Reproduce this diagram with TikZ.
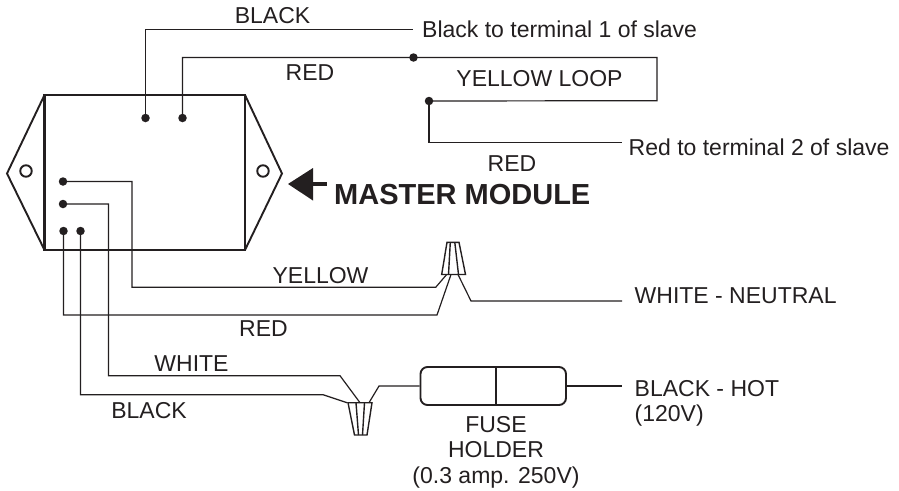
\documentclass[tikz,border=0pt]{standalone}
\usepackage{fontspec}
\setmainfont{Liberation Sans}
\definecolor{ink}{HTML}{231F20}
\tikzset{
  wire/.style={draw=ink,line width=1.2pt,line join=miter},
  heavy/.style={draw=ink,line width=2.5pt,line join=miter},
  side/.style={draw=ink,line width=1.9pt,line join=miter},
  part/.style={draw=ink,line width=1.4pt,line join=miter},
  pin/.style={circle,fill=ink,inner sep=0pt,minimum size=8.5pt},
  hole/.style={circle,draw=ink,line width=1.9pt,inner sep=0pt,minimum size=11.5pt},
  lbl/.style={text=ink,inner sep=0pt,anchor=base,font=\fontsize{23}{27}\selectfont},
  lblw/.style={lbl,anchor=base west},
  bigl/.style={text=ink,inner sep=0pt,anchor=base west,font=\fontsize{29}{34}\selectfont\bfseries},
  fusebox/.style={draw=ink,line width=1.9pt,rounded corners=7pt,minimum width=145.5pt,minimum height=38pt,inner sep=0pt},
}
\begin{document}
\begin{tikzpicture}[x=1pt,y=-1pt]
\useasboundingbox (0,0) rectangle (899,490);
% module
\coordinate (tl) at (44.5,95); \coordinate (tr) at (245,95);
\coordinate (bl) at (44.5,250); \coordinate (br) at (245,250);
\coordinate (la) at (7,173.5); \coordinate (ra) at (282,173.5);
\draw[heavy] (tl) -- (tr) -- (br) -- (bl) -- cycle;
\draw[side] (tl) -- (la) -- (bl) (tr) -- (ra) -- (br);
\node[hole] (hl) at (26,171) {};
\node[hole] (hr) at (263,171) {};
% pins
\node[pin] (p1) at (145.5,118) {};
\node[pin] (p2) at (182.5,118) {};
\node[pin] (p3) at (63,181.5) {};
\node[pin] (p4) at (63,204) {};
\node[pin] (p5) at (63.5,231) {};
\node[pin] (p6) at (80.5,231) {};
\node[pin] (j1) at (413.5,57.5) {};
\node[pin] (j2) at (429,101) {};
% free ends
\coordinate (bt) at (413,29.5);
\coordinate (rt) at (622,142.7);
\coordinate (wn) at (622,301);
\coordinate (bh) at (622,386);
% fuse
\node[fusebox] (fuse) at (493.25,386) {};
\draw[draw=ink,line width=1.6pt] (496,367) -- (496,405);
% upper wire nut
\coordinate (ua) at (446.7,274.5); \coordinate (ub) at (451,274.5); \coordinate (uc) at (458,274.5);
\draw[part] (447,242.3) -- (459,242.3) -- (465.5,274.5) -- (441.7,274.5) -- cycle;
\draw[part] (450.3,242.3) -- (448.5,274.5) (454.8,242.3) -- (458.5,274.5);
% lower wire nut
\coordinate (la1) at (347,402.7); \coordinate (la2) at (360,402.7); \coordinate (la3) at (369,402.7);
\draw[part] (348,402.7) -- (372,402.7) -- (367,435) -- (354.5,435) -- cycle;
\draw[part] (356,402.7) -- (358.5,435) (364.5,402.7) -- (362.5,435);
% wires top
\draw[wire] (p1.center) |- (bt);
\draw[wire] (p2.center) |- (j1.center) -- (657,57.5) -- (657,100.7) -- (j2.center);
\draw[wire] (j2.center) |- (rt);
% wires lower
\draw[wire] (p3.center) -| (132,287.3) -- (435.7,287.3) -- (ua);
\draw[wire] (p5.center) |- (437,315) -- (ub);
\draw[wire] (uc) -- (471,301) -- (wn);
\draw[wire] (p4.center) -| (108.5,375.7) -- (340,375.7) -- (la2);
\draw[wire] (p6.center) |- (323,394.7) -- (la1);
\draw[wire] (la3) -- (379,386) -- (fuse.west);
\draw[wire] (fuse.east) -- (bh);
% arrow
\coordinate (atip) at (288,184);
\fill[ink] (atip) -- (313,168) -- (313,200.5) -- cycle;
\draw[draw=ink,line width=4.5pt] (305,184) -- (326.7,184);
% labels
\node[lbl] (t1) at (272.5,23) {BLACK};
\node[lblw] (t2) at (422,37) {Black to terminal 1 of slave};
\node[lbl] (t3) at (310,80) {RED};
\node[lbl] (t4) at (539.5,86.7) {YELLOW LOOP};
\node[lblw] (t5) at (628.5,155) {Red to terminal 2 of slave};
\node[lbl] (t6) at (512,171) {RED};
\node[bigl] (t7) at (334,204) {MASTER MODULE};
\node[lbl] (t8) at (320.5,283.5) {YELLOW};
\node[lbl] (t9) at (263.5,336.7) {RED};
\node[lblw] (t10) at (634.5,303) {WHITE - NEUTRAL};
\node[lbl] (t11) at (191.5,371) {WHITE};
\node[lbl] (t12) at (149,418) {BLACK};
\node[lblw] (t13) at (634.5,396) {BLACK - HOT};
\node[lblw] (t14) at (634.5,421.7) {(120V)};
\node[lbl] (t15) at (496,432) {FUSE};
\node[lbl] (t16) at (496,457) {HOLDER};
\node[lbl] (t17) at (496,483) {(0.3 amp. 250V)};
\end{tikzpicture}
\end{document}
